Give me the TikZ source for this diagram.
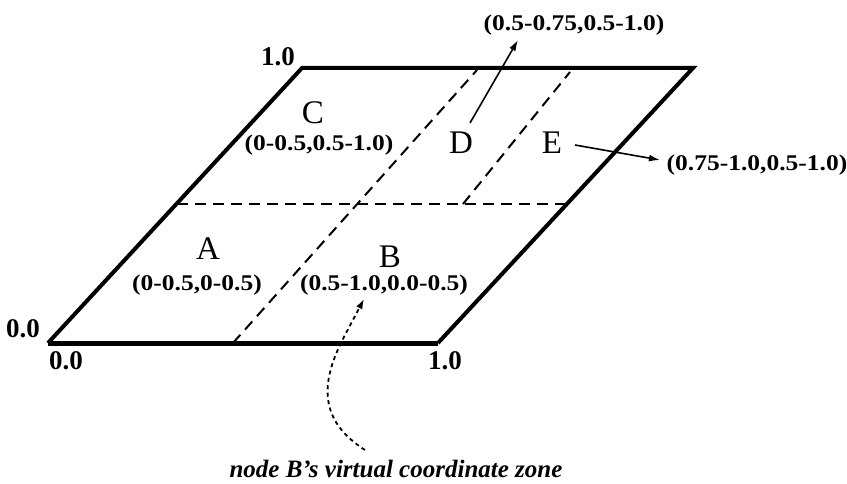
\documentclass[tikz,border=0pt]{standalone}
\usepackage{fontspec}
\setmainfont{Liberation Serif}
\usetikzlibrary{arrows.meta,calc}
\begin{document}
\begin{tikzpicture}[x=1pt,y=-1pt,
  edge/.style={line width=4pt,line join=miter},
  dashline/.style={line width=2pt,dash pattern=on 11pt off 7pt},
  dotline/.style={line width=1.8pt,dash pattern=on 4pt off 3.5pt,-{Latex[length=10pt,width=7pt]}},
  arr/.style={line width=1.6pt,-{Latex[length=11pt,width=7pt]}},
  corner/.style={font=\fontsize{27}{29}\selectfont\bfseries,inner sep=0pt},
  zonelbl/.style={font=\fontsize{33}{35}\selectfont,inner sep=0pt},
  rangelbl/.style={font=\fontsize{25.5}{27}\selectfont\bfseries,inner sep=0pt,yscale=0.88},
  captionlbl/.style={font=\fontsize{25}{27}\selectfont\bfseries\itshape,inner sep=0pt}]
\useasboundingbox (0,0) rectangle (847,484);
% corners
\coordinate (p00) at (48,343);
\coordinate (p10) at (438,343);
\coordinate (p11) at (693,68);
\coordinate (p01) at (302,68);
% dashed partition lines
\coordinate (mL) at (177,204);
\coordinate (mR) at (565,204);
\coordinate (vB) at (233,343);
\coordinate (vT) at (477,70);
\coordinate (eB) at (463,204);
\coordinate (eT) at (570,72);
\draw[dashline] (mL) -- (mR);
\draw[dashline] (vB) -- (vT);
\draw[dashline] (eB) -- (eT);
% outline
\draw[edge] (p00) -- (p01) -- (p11) -- (p10);
\draw[line width=5pt] (p10) -- (p00);
% corner labels
\node[corner] (t10) at (278,57) {1.0};
\node[corner] (l00) at (23,329) {0.0};
\node[corner] (b00) at (66,361) {0.0};
\node[corner] (b10) at (445,361) {1.0};
% zones
\node[zonelbl] (C) at (313,113) {C};
\node[rangelbl] (Cr) at (319,145) {(0-0.5,0.5-1.0)};
\node[zonelbl] (D) at (461,143) {D};
\node[zonelbl] (E) at (552,143) {E};
\node[zonelbl] (A) at (208,249) {A};
\node[rangelbl] (Ar) at (197,285) {(0-0.5,0-0.5)};
\node[zonelbl] (B) at (390,257) {B};
\node[rangelbl] (Br) at (384,285) {(0.5-1.0,0.0-0.5)};
\node[rangelbl] (Dr) at (574,25) {(0.5-0.75,0.5-1.0)};
\node[rangelbl] (Er) at (757,165) {(0.75-1.0,0.5-1.0)};
\node[captionlbl] (cap) at (396,469) {node B's virtual coordinate zone};
% arrows
\coordinate (dS) at (470,123);
\coordinate (dT) at (518,40);
\draw[arr] (dS) -- (dT);
\coordinate (eS) at (575,145);
\coordinate (eE) at (660,160);
\draw[arr] (eS) -- (eE);
\coordinate (bS) at (365,450);
\coordinate (bM) at (345,335);
\coordinate (bT) at (364,299);
\draw[dotline] (bS) .. controls (318,420) and (320,382) .. (bM) -- (bT);
\end{tikzpicture}
\end{document}
